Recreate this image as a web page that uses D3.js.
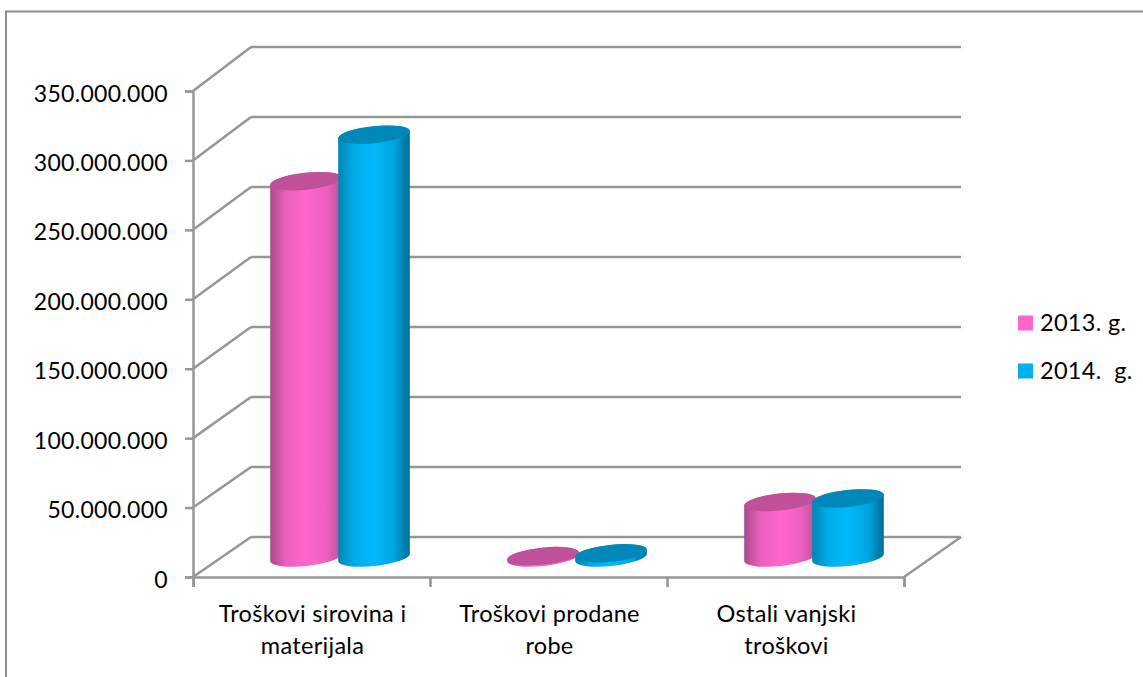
<!DOCTYPE html>
<html>
<head>
<meta charset="utf-8">
<script src="https://cdn.jsdelivr.net/npm/d3@7"></script>
<style>
html, body { margin: 0; padding: 0; background: #fff; }
text { font-family: Lato, "Open Sans", sans-serif; fill: #000; }
</style>
</head>
<body>
<svg id="chart" width="1143" height="677"></svg>
<script>
var categories = [["Troškovi sirovina i", "materijala"], ["Troškovi prodane", "robe"], ["Ostali vanjski", "troškovi"]];
var seriesNames = ["2013. g.", "2014.  g."];
var values2013 = [271000000, 1000000, 40000000];
var values2014 = [304500000, 3000000, 42500000];
var yTicks = [0, 50000000, 100000000, 150000000, 200000000, 250000000, 300000000, 350000000];

var svg = d3.select("#chart");
var gray = "#969696";
var rx = 36, ry = 8.5, tilt = -6;
var tickFont = 23, labelFont = 23.5, spacing = 0.3;

// frame
svg.append("path")
	.attr("d", "M6,677V11.5H1143")
	.attr("fill", "none")
	.attr("stroke", "#8c8c8c")
	.attr("stroke-width", 2);

var yMax = 350000000;
var yFront = d3.scaleLinear().domain([0, yMax]).range([577, 91]);
var yBack = d3.scaleLinear().domain([0, yMax]).range([537, 47]);
var yBar = d3.scaleLinear().domain([0, yMax]).range([557.5, 71.5]);
var xFront = d3.scaleLinear().domain([0, 3]).range([193, 904]);
var xBack = d3.scaleLinear().domain([0, 3]).range([251, 961]);
// bar centres, offset from the front edge of the floor
var xBar = d3.scaleLinear().domain([0, 3]).range([306, 1017]);

// walls
var grid = svg.append("g").attr("fill", "none").attr("stroke", gray).attr("stroke-width", 2.5);
yTicks.forEach(function(t) {
	grid.append("line")
		.attr("x1", xBack(0)).attr("x2", xBack(3))
		.attr("y1", yBack(t)).attr("y2", yBack(t));
	grid.append("line")
		.attr("x1", xFront(0)).attr("x2", xBack(0))
		.attr("y1", yFront(t)).attr("y2", yBack(t));
});
grid.append("line")
	.attr("x1", xFront(3)).attr("x2", xBack(3))
	.attr("y1", yFront(0)).attr("y2", yBack(0));

// axes
var yAxis = svg.append("g")
	.attr("transform", "translate(" + xFront(0) + ",0)")
	.call(d3.axisLeft(yFront).tickValues(yTicks).tickSize(8).tickPadding(17)
		.tickFormat(function(d) { return d3.format(",")(d).replace(/,/g, "."); }));
var xAxis = svg.append("g")
	.attr("transform", "translate(0," + yFront(0) + ")")
	.call(d3.axisBottom(xFront).tickValues([0, 1, 2, 3]).tickSize(10).tickFormat(""));
[yAxis, xAxis].forEach(function(a) {
	a.selectAll("path").attr("stroke", gray).attr("stroke-width", 2.5);
	a.selectAll("line").attr("stroke", gray).attr("stroke-width", 2.5);
});
yAxis.selectAll("text")
	.attr("font-size", tickFont)
	.attr("dy", "0.44em")
	.attr("letter-spacing", spacing)
	.style("font-family", "Lato")
	.attr("fill", "#000");

// category labels
categories.forEach(function(lines, i) {
	var label = svg.append("text")
		.attr("text-anchor", "middle")
		.attr("font-size", labelFont)
		.attr("letter-spacing", spacing);
	lines.forEach(function(l, k) {
		label.append("tspan")
			.attr("x", xFront(i + 0.5) + 1)
			.attr("y", 622 + k * 32)
			.text(l);
	});
});

// gradients
var defs = svg.append("defs");
function addGradient(id, edge, mid, edgeRight) {
	var g = defs.append("linearGradient").attr("id", id);
	g.append("stop").attr("offset", "0%").attr("stop-color", edge);
	g.append("stop").attr("offset", "22%").attr("stop-color", d3.interpolateRgb(edge, mid)(0.75));
	g.append("stop").attr("offset", "50%").attr("stop-color", mid);
	g.append("stop").attr("offset", "78%").attr("stop-color", d3.interpolateRgb(edgeRight, mid)(0.75));
	g.append("stop").attr("offset", "100%").attr("stop-color", edgeRight);
}
addGradient("grad0", "#a94c8b", "#ff66cc", "#b9529a");
addGradient("grad1", "#0085b5", "#00b9fb", "#006c94");

var fills = ["url(#grad0)", "url(#grad1)"];
var tops = ["#c0509a", "#0088b8"];
var legendColors = ["#ff66cc", "#00b0f0"];
var offsets = [0, 68];

function cylinder(cx, yBase, yTop, s) {
	var dx = rx * Math.cos(tilt * Math.PI / 180), dy = rx * Math.sin(tilt * Math.PI / 180);
	var g = svg.append("g");
	var arc = "A" + rx + "," + ry + " " + tilt + " 0 0 ";
	g.append("path")
		.attr("d", "M" + (cx - dx) + "," + (yTop - dy)
			+ "L" + (cx - dx) + "," + (yBase - dy)
			+ arc + (cx + dx) + "," + (yBase + dy)
			+ "L" + (cx + dx) + "," + (yTop + dy)
			+ arc + (cx - dx) + "," + (yTop - dy) + "Z")
		.attr("fill", fills[s]);
	g.append("ellipse")
		.attr("cx", cx).attr("cy", yTop)
		.attr("rx", rx).attr("ry", ry)
		.attr("transform", "rotate(" + tilt + " " + cx + " " + yTop + ")")
		.attr("fill", tops[s]);
}

[values2013, values2014].forEach(function(vals, s) {
	vals.forEach(function(v, i) {
		cylinder(xBar(i) + offsets[s], yBar(0), yBar(v), s);
	});
});

// legend
var legendY = d3.scalePoint().domain(seriesNames).range([323, 371]);
seriesNames.forEach(function(n, s) {
	svg.append("rect")
		.attr("x", 1018).attr("y", legendY(n) - 7.5)
		.attr("width", 15).attr("height", 15)
		.attr("fill", legendColors[s]);
	svg.append("text")
		.attr("x", 1040).attr("y", legendY(n) + 8)
		.attr("font-size", labelFont)
		.attr("letter-spacing", spacing)
		.style("white-space", "pre")
		.text(n);
});
</script>
</body>
</html>
